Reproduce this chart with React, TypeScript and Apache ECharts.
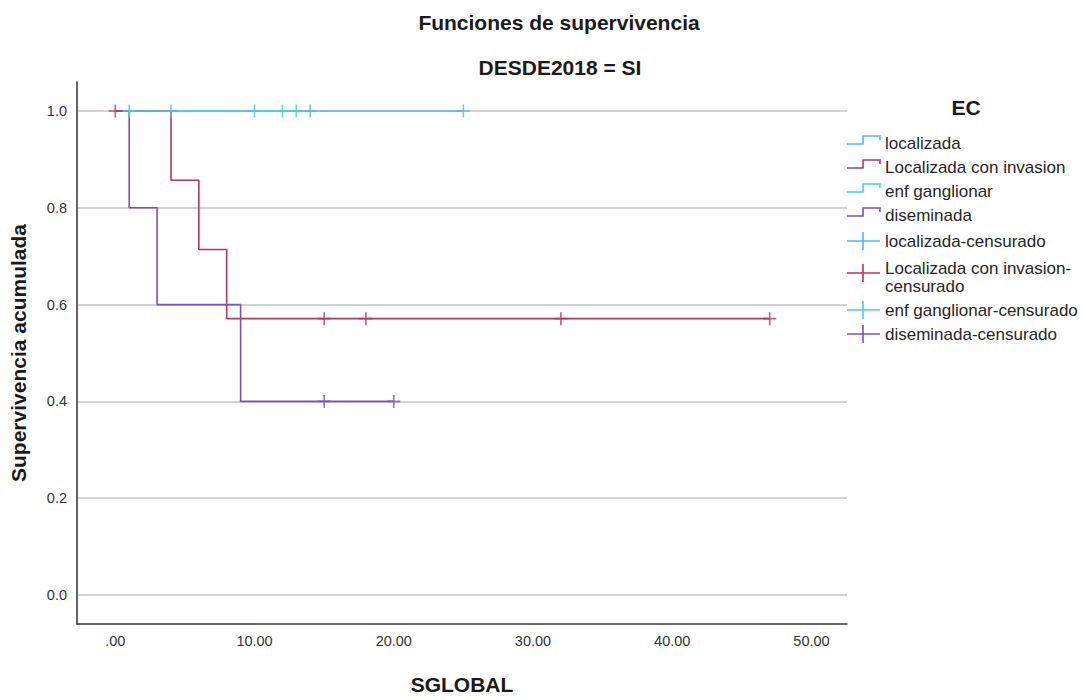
import React, { useEffect, useRef } from 'react';
import * as echarts from 'echarts';

const groups = ['localizada', 'Localizada con invasion', 'enf ganglionar', 'diseminada'];
const colors = ['#58b4f6', '#b8355f', '#3ed6d9', '#7a52bb'];

// Kaplan-Meier step data [time, cumulative survival]
const localizadaSteps = [[0, 1], [25, 1]];
const invasionSteps = [[0, 1], [4, 0.857], [6, 0.714], [8, 0.571], [47, 0.571]];
const ganglionarSteps = [[0, 1], [13, 1]];
const diseminadaSteps = [[0, 1], [1, 0.8], [3, 0.6], [9, 0.4], [20, 0.4]];

// Censored observations [time, survival]
const localizadaCens = [[4, 1], [10, 1], [14, 1], [25, 1]];
const invasionCens = [[0, 1], [15, 0.571], [18, 0.571], [32, 0.571], [47, 0.571]];
const ganglionarCens = [[1, 1], [12, 1], [13, 1]];
const diseminadaCens = [[15, 0.4], [20, 0.4]];

const xTicks = [0, 10, 20, 30, 40, 50];
const yTicks = [0, 0.2, 0.4, 0.6, 0.8, 1.0];

const stepData = [localizadaSteps, invasionSteps, ganglionarSteps, diseminadaSteps];
const censData = [localizadaCens, invasionCens, ganglionarCens, diseminadaCens];
const censNames = ['localizada-censurado', 'Localizada con invasion-\ncensurado', 'enf ganglionar-censurado', 'diseminada-censurado'];

const FONT = '"Liberation Sans", Arial, Helvetica, sans-serif';
const PLUS = 'path://M0,5L10,5M5,0L5,10';

export default function App() {
  const ref = useRef<HTMLDivElement>(null);
  useEffect(() => {
    document.body.style.margin = '0';
    if (!ref.current) return;
    const chart = echarts.init(ref.current, undefined, { renderer: 'svg' });

    const lineSeries = stepData.map((d, i) => ({
      name: groups[i],
      type: 'line',
      step: 'end',
      data: d,
      symbol: 'none',
      lineStyle: { color: colors[i], width: 1.6 },
      z: 2 + i,
    }));
    const censSeries = censData.map((d, i) => ({
      name: censNames[i],
      type: 'scatter',
      data: d,
      symbol: PLUS,
      symbolSize: 13,
      itemStyle: { color: 'none', borderColor: colors[i], borderWidth: 1.6 },
      z: 10 + i,
    }));

    // legend drawn with graphic elements
    const legendX = 847;
    const rowY = [143, 167, 191, 215, 241, 277, 310, 334];
    const legendEls: any[] = [];
    legendEls.push({
      type: 'text', x: 966, y: 107,
      style: { text: 'EC', font: `bold 21px ${FONT}`, fill: '#1a1a1a', textAlign: 'center', textVerticalAlign: 'middle' },
    });
    groups.forEach((g, i) => {
      const y = rowY[i];
      legendEls.push({
        type: 'polyline',
        shape: { points: [[legendX, y + 1], [legendX + 16, y + 1], [legendX + 16, y - 7], [legendX + 33, y - 7], [legendX + 33, y - 3]] },
        style: { stroke: colors[i], lineWidth: 1.6, fill: 'none' },
      });
      legendEls.push({
        type: 'text', x: 885, y,
        style: { text: g, font: `17px ${FONT}`, fill: '#262626', textVerticalAlign: 'middle' },
      });
    });
    censNames.forEach((g, i) => {
      const y = rowY[4 + i];
      const py = i === 1 ? y - 4 : y;
      legendEls.push({
        type: 'line', shape: { x1: legendX, y1: py, x2: legendX + 33, y2: py },
        style: { stroke: colors[i], lineWidth: 1.6 },
      });
      legendEls.push({
        type: 'line', shape: { x1: legendX + 16, y1: py - 9, x2: legendX + 16, y2: py + 9 },
        style: { stroke: colors[i], lineWidth: 1.6 },
      });
      legendEls.push({
        type: 'text', x: 885, y,
        style: { text: g, font: `17px ${FONT}`, fill: '#262626', textVerticalAlign: 'middle', lineHeight: 18 },
      });
    });

    const option: any = {
      animation: false,
      backgroundColor: '#ffffff',
      textStyle: { fontFamily: FONT },
      grid: { left: 77, right: 236, top: 82, bottom: 72, containLabel: false },
      xAxis: {
        type: 'value',
        min: -2.75,
        max: 52.55,
        name: 'SGLOBAL',
        nameLocation: 'middle',
        nameGap: 50,
        nameTextStyle: { fontFamily: FONT, fontWeight: 'bold', fontSize: 21, color: '#1a1a1a' },
        axisLine: { show: true, onZero: false, lineStyle: { color: '#333333', width: 1.5 } },
        axisTick: { show: false, customValues: xTicks },
        axisLabel: {
          customValues: xTicks,
          fontFamily: FONT, fontSize: 14.5, color: '#333333', margin: 9,
          formatter: (v: number) => (v === 0 ? '.00' : v.toFixed(2)),
        },
        splitLine: { show: false },
      },
      yAxis: {
        type: 'value',
        min: -0.06,
        max: 1.06,
        name: 'Supervivencia acumulada',
        nameLocation: 'middle',
        nameGap: 48,
        nameTextStyle: { fontFamily: FONT, fontWeight: 'bold', fontSize: 21, color: '#1a1a1a' },
        axisLine: { show: true, onZero: false, lineStyle: { color: '#333333', width: 1.5 } },
        axisTick: { show: false, customValues: yTicks },
        axisLabel: {
          customValues: yTicks,
          fontFamily: FONT, fontSize: 14.5, color: '#333333', margin: 10,
          formatter: (v: number) => v.toFixed(1),
        },
        splitLine: { show: true, lineStyle: { color: '#c4c4c4', width: 1.5 } },
      },
      graphic: [
        {
          type: 'text', x: 559, y: 22,
          style: { text: 'Funciones de supervivencia', font: `bold 21px ${FONT}`, fill: '#1a1a1a', textAlign: 'center', textVerticalAlign: 'middle' },
        },
        {
          type: 'text', x: 560, y: 67,
          style: { text: 'DESDE2018 = SI', font: `bold 21px ${FONT}`, fill: '#1a1a1a', textAlign: 'center', textVerticalAlign: 'middle' },
        },
        ...legendEls,
      ],
      series: [...lineSeries, ...censSeries],
    };
    chart.setOption(option);
    return () => chart.dispose();
  }, []);
  return <div ref={ref} style={{ width: 1083, height: 700 }} />;
}
